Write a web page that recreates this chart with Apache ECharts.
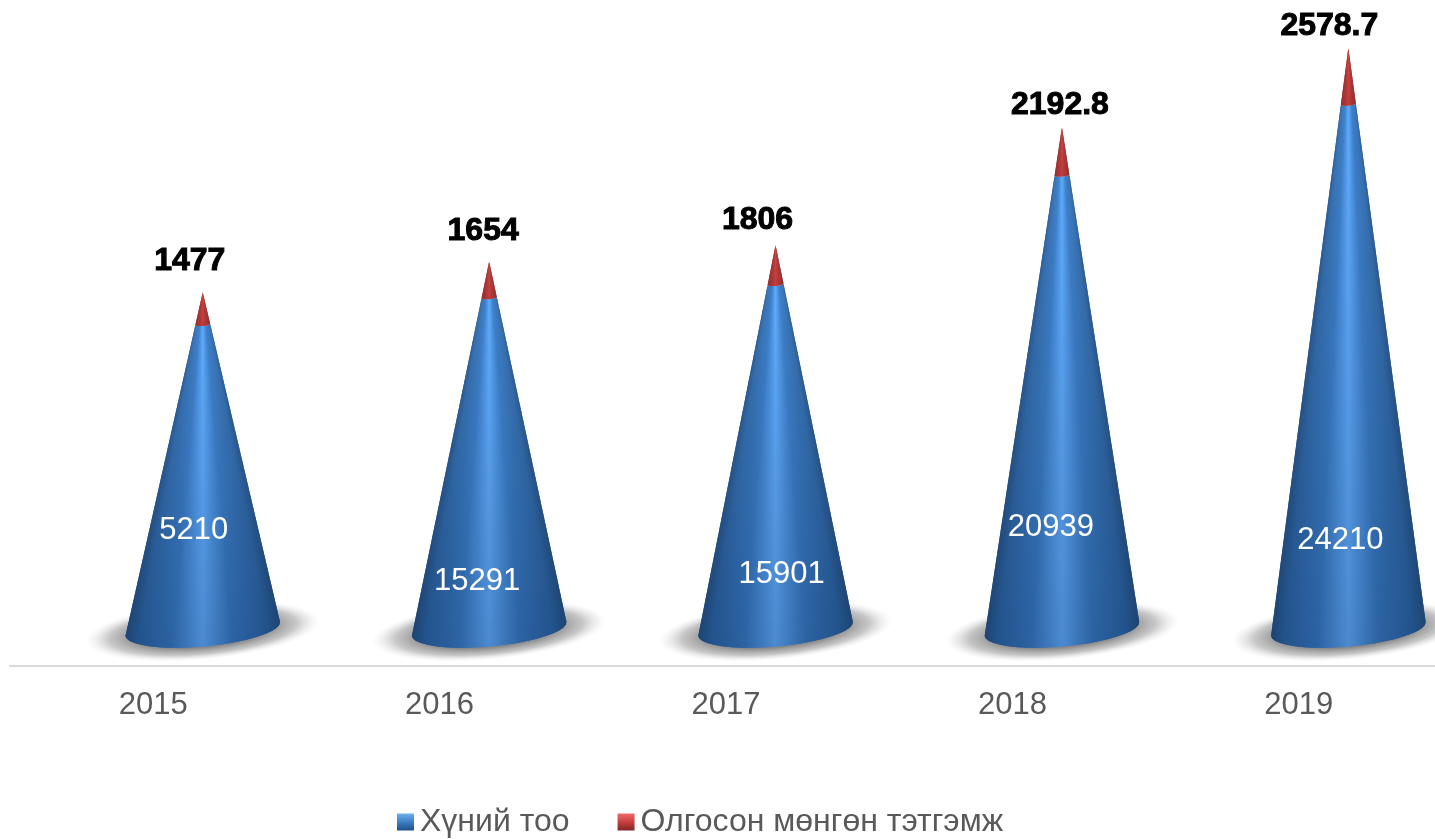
<!DOCTYPE html>
<html>
<head>
<meta charset="utf-8">
<script src="https://cdn.jsdelivr.net/npm/echarts@6/dist/echarts.min.js"></script>
<style>
    html, body { margin: 0; padding: 0; background: #fff; overflow: hidden; }
    #main { width: 1435px; height: 839px; }
</style>
</head>
<body>
<div id="main"></div>
<script>
// 数据
var categories = ['2015', '2016', '2017', '2018', '2019'];
var peopleValues = [14050, 15291, 15901, 20939, 24210];
var peopleLabels = ['5210', '15291', '15901', '20939', '24210'];
var pensionValues = [1477, 1654, 1806, 2192.8, 2578.7];
var seriesNames = ['Хүний тоо', 'Олгосон мөнгөн тэтгэмж'];

// 手动拖动过的标签位置(相对圆锥)
var peopleLabelDx = [-9, -12, 6, -11, -8];
var peopleLabelDy = [-99, -48, -55, -102, -89];
var pensionLabelDx = [-13, -6, -18, -2, -19];
var pensionLabelDy = [-31, -30, -25, -22, -22];

var FONT = '"Liberation Sans", Arial, sans-serif';
var TILT = 0.09;

// 明暗色带,两组位置一致
var shadeStops = [0, 0.08, 0.3, 0.5, 0.7, 0.92, 1];
var blueTop = ['#2f5f98', '#3a74b4', '#3f82cc', '#5fadff', '#3f82cc', '#3a74b4', '#2f5f98'];
var blueBottom = ['#1d4472', '#22528a', '#2c62a2', '#4c8ad0', '#2c62a2', '#22528a', '#1d4472'];
var redTop = ['#983030', '#a83a3a', '#b83e3e', '#d04545', '#b83e3e', '#a83a3a', '#983030'];
var redBottom = ['#8a2a2a', '#9a3030', '#ac3636', '#c23c3c', '#ac3636', '#9a3030', '#8a2a2a'];

function mixHex(h1, h2, k) {
    var out = [1, 3, 5].map(function (p) {
        var a = parseInt(h1.substr(p, 2), 16), b = parseInt(h2.substr(p, 2), 16);
        return Math.round(a + (b - a) * k);
    });
    return 'rgb(' + out.join(',') + ')';
}

// 圆锥几何,由类目带宽和坐标轴换算
function coneInfo(api, idx) {
    var band = api.size([1, 0])[0];
    var base = api.coord([idx, 0]);
    var cx = base[0] + band * 0.173;
    var total = peopleValues[idx] + pensionValues[idx];
    return {
        band: band,
        cx: cx,
        cy: base[1],
        apex: [cx, api.coord([idx, total])[1]],
        rx: band * 0.271,
        ry: band * 0.061,
        split: pensionValues[idx] / total
    };
}

// t: 0 = 顶点, 1 = 底面
function conePoint(c, theta, t) {
    var ex = c.rx * Math.cos(theta), ey = c.ry * Math.sin(theta);
    var px = c.cx + ex * Math.cos(TILT) + ey * Math.sin(TILT);
    var py = c.cy - ex * Math.sin(TILT) + ey * Math.cos(TILT);
    return [c.apex[0] + (px - c.apex[0]) * t, c.apex[1] + (py - c.apex[1]) * t];
}

// 一圈圈从上往下画,后一圈盖住前一圈的下缘,避免缝隙
function coneBands(c, t0, t1, topColors, bottomColors) {
    var out = [];
    var n = Math.max(4, Math.round((t1 - t0) * (c.cy - c.apex[1]) / 1.5));
    for (var i = 0; i < n; i++) {
        var ta = t0 + (t1 - t0) * i / n;
        var tb = Math.min(t1, t0 + (t1 - t0) * (i + 2) / n);
        var k = (i + 0.5) / n;
        var pts = [];
        var j;
        for (j = 0; j <= 20; j++) pts.push(conePoint(c, Math.PI * j / 20, tb));
        for (j = 20; j >= 0; j--) pts.push(conePoint(c, Math.PI * j / 20, ta));
        var stops = shadeStops.map(function (s, q) {
            return { offset: s, color: mixHex(topColors[q], bottomColors[q], k) };
        });
        out.push({
            type: 'polygon',
            shape: { points: pts },
            style: { fill: new echarts.graphic.LinearGradient(0, 0, 1, 0, stops) }
        });
    }
    return out;
}

function renderPeople(params, api) {
    var idx = api.value(0);
    var c = coneInfo(api, idx);
    var shadow = {
        type: 'circle',
        shape: { cx: 0, cy: 0, r: 1 },
        x: c.cx,
        y: c.cy + 2,
        rotation: TILT,
        scaleX: c.band * 0.41,
        scaleY: c.band * 0.1,
        style: {
            fill: new echarts.graphic.RadialGradient(0.5, 0.5, 0.5, [
                { offset: 0, color: 'rgba(125,125,125,1)' },
                { offset: 0.55, color: 'rgba(130,130,130,1)' },
                { offset: 0.8, color: 'rgba(175,175,175,0.7)' },
                { offset: 1, color: 'rgba(225,225,225,0)' }
            ])
        }
    };
    var children = [shadow].concat(coneBands(c, c.split, 1, blueTop, blueBottom));
    children.push({
        type: 'text',
        style: {
            text: peopleLabels[idx],
            x: c.cx + peopleLabelDx[idx],
            y: c.cy + peopleLabelDy[idx],
            fill: '#fff',
            font: '31px ' + FONT,
            align: 'center',
            verticalAlign: 'middle'
        }
    });
    return { type: 'group', children: children };
}

function renderPension(params, api) {
    var idx = api.value(0);
    var c = coneInfo(api, idx);
    var children = coneBands(c, 0, c.split, redTop, redBottom);
    children.push({
        type: 'text',
        style: {
            text: String(pensionValues[idx]),
            x: c.apex[0] + pensionLabelDx[idx],
            y: c.apex[1] + pensionLabelDy[idx],
            fill: '#000',
            stroke: '#000',
            lineWidth: 1,
            font: 'bold 32px ' + FONT,
            align: 'center',
            verticalAlign: 'middle'
        }
    });
    return { type: 'group', children: children };
}

function legendFill(light, mid, dark) {
    return new echarts.graphic.LinearGradient(0, 0, 0, 1, [
        { offset: 0, color: light },
        { offset: 0.5, color: mid },
        { offset: 1, color: dark }
    ]);
}

var myChart = echarts.init(document.getElementById('main'), null, { renderer: 'canvas' });

var option = {
    animation: false,
    grid: { left: 10, top: 0, width: 1432, height: 629, outerBoundsMode: 'none' },
    legend: {
        left: 397,
        top: 806,
        padding: 0,
        icon: 'rect',
        itemWidth: 17,
        itemHeight: 17,
        itemGap: 48,
        itemStyle: { borderWidth: 0 },
        selectedMode: false,
        textStyle: { fontFamily: FONT, fontSize: 32, color: '#595959', padding: [0, 0, 0, 1] },
        data: [
            { name: seriesNames[0], itemStyle: { color: legendFill('#6fb0f0', '#3f7fc4', '#1f4f88') } },
            { name: seriesNames[1], itemStyle: { color: legendFill('#f06a6a', '#c84040', '#7f2525') } }
        ]
    },
    xAxis: {
        type: 'category',
        data: categories,
        offset: 37,
        axisLine: { show: true, onZero: false, lineStyle: { color: '#d9d9d9', width: 2 } },
        axisTick: { show: false },
        axisLabel: { color: '#595959', fontFamily: FONT, fontSize: 31, margin: 24 }
    },
    yAxis: { type: 'value', min: 0, max: 29000, show: false },
    series: [
        {
            name: seriesNames[0],
            type: 'custom',
            clip: false,
            renderItem: renderPeople,
            encode: { x: 0, y: 1 },
            data: peopleValues.map(function (v, i) { return [i, v]; })
        },
        {
            name: seriesNames[1],
            type: 'custom',
            clip: false,
            renderItem: renderPension,
            encode: { x: 0, y: 1 },
            data: pensionValues.map(function (v, i) { return [i, v]; })
        }
    ]
};

myChart.setOption(option);
</script>
</body>
</html>
